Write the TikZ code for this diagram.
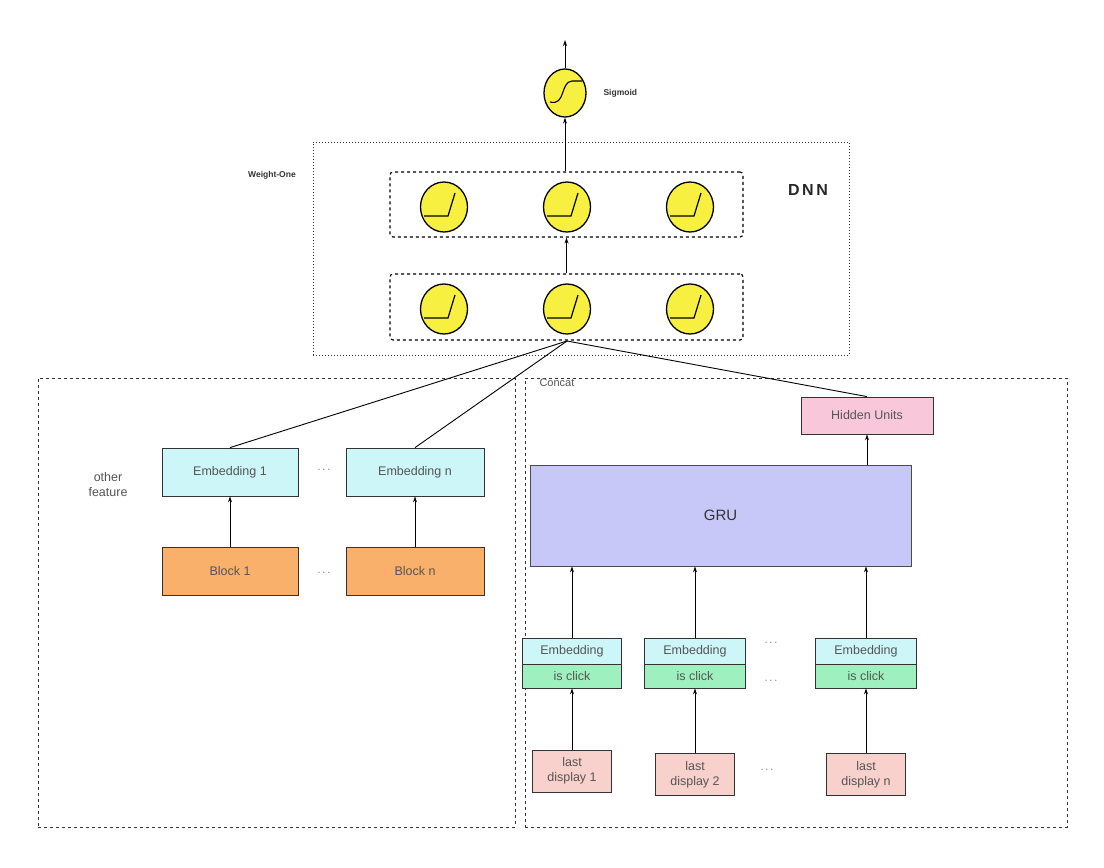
\documentclass[tikz,border=0pt]{standalone}
\usepackage{fontspec}
\setmainfont{Liberation Sans}
\usetikzlibrary{arrows.meta,shapes.geometric}
\definecolor{cyanf}{HTML}{CCF6F8}
\definecolor{orangef}{HTML}{F8B06A}
\definecolor{pinkf}{HTML}{F8C8DA}
\definecolor{grufill}{HTML}{C8C8F8}
\definecolor{greenf}{HTML}{9EF0BE}
\definecolor{lastf}{HTML}{F8D0CC}
\definecolor{yel}{HTML}{F8F040}
\definecolor{txt}{HTML}{555555}
\begin{document}
\begin{tikzpicture}[x=1pt,y=-1pt,
  box/.style={draw=black!80,line width=0.8pt,inner sep=0pt,text=txt,font=\fontsize{12.5}{13}\selectfont},
  neuron/.style={draw=black,line width=1.3pt,fill=yel,ellipse,minimum width=47pt,minimum height=50pt,inner sep=0pt},
  arr/.style={-{Stealth[length=6pt,width=4pt]},line width=0.9pt},
  ln/.style={line width=0.9pt},
  dots/.style={text=txt,font=\fontsize{11}{12}\selectfont}]
\useasboundingbox (0,0) rectangle (1104,868);
% DNN area
\node[draw=black!80,dotted,line width=1pt,minimum width=536pt,minimum height=213pt,inner sep=0pt] (dnn) at (581,248.5) {};
\node[font=\bfseries\fontsize{8.5}{9}\selectfont,text=black!80] (wo) at (272,175) {Weight-One};
\node[font=\bfseries\fontsize{16}{17}\selectfont,text=black!85] (dnnl) at (808,190) {D\,N\,N};
\node[draw=black,dashed,rounded corners=3pt,line width=1.1pt,minimum width=353pt,minimum height=65pt,inner sep=0pt] (up) at (566.5,204.5) {};
\node[draw=black,dashed,rounded corners=3pt,line width=1.1pt,minimum width=353pt,minimum height=66pt,inner sep=0pt] (lo) at (566.5,307) {};
\foreach \i/\x in {1/444,2/567,3/690}{
  \node[neuron] (u\i) at (\x,207) {};
  \draw[line width=1.2pt] (\x-20,216) -- (\x+4,216) -- (\x+11,193);
  \node[neuron] (l\i) at (\x,309) {};
  \draw[line width=1.2pt] (\x-20,318) -- (\x+4,318) -- (\x+11,295);
}
\node[neuron,minimum width=42pt,minimum height=48pt] (sig) at (565,93) {};
\draw[line width=1.1pt] (550,102) .. controls (566,106) and (560,82) .. (572,81) -- (582,81);
\node[font=\bfseries\fontsize{8.5}{9}\selectfont,text=black!80,anchor=west] (sigl) at (600,93) {Sigmoid};
\coordinate (outtop) at (565,40);
\draw[arr] (sig.north) -- (outtop);
\draw[arr] (up.north -| sig) -- (sig.south);
\draw[arr] (lo.north) -- (up.south);
% bottom containers
\node[draw=black!80,dashed,line width=0.9pt,minimum width=477pt,minimum height=449pt,inner sep=0pt] (left) at (276.5,602.5) {};
\node[draw=black!80,dashed,line width=0.9pt,minimum width=542pt,minimum height=449pt,inner sep=0pt] (right) at (796,602.5) {};
\node[text=txt,font=\fontsize{11}{12}\selectfont,anchor=west] (concat) at (536,383) {Concat};
% left side
\node[box,fill=cyanf,minimum width=136pt,minimum height=48pt] (e1) at (230,472) {Embedding 1};
\node[box,fill=cyanf,minimum width=138pt,minimum height=48pt] (en) at (415,472) {Embedding n};
\node[dots] (d1) at (324,470) {$\cdots$};
\node[text=txt,font=\fontsize{12.5}{15}\selectfont,align=center] (of) at (108,485) {other\\feature};
\node[box,fill=orangef,minimum width=136pt,minimum height=48pt] (b1) at (230,571) {Block 1};
\node[box,fill=orangef,minimum width=138pt,minimum height=48pt] (bn) at (415,571) {Block n};
\node[dots] (d2) at (324,573) {$\cdots$};
\draw[arr] (b1) -- (e1);
\draw[arr] (bn) -- (en);
% right side
\node[box,fill=pinkf,minimum width=132pt,minimum height=37pt] (hu) at (867,415.5) {Hidden Units};
\node[box,fill=grufill,draw=black!70,minimum width=381pt,minimum height=101pt,font=\fontsize{15}{16}\selectfont,text=black!80] (gru) at (720.5,515.5) {GRU};
\draw[arr] (gru.north -| hu) -- (hu.south);
\foreach \i/\x/\w/\ly/\lab in {1/572/99/771/1,2/695/101/774.5/2,3/866/101/774.5/n}{
  \node[box,fill=cyanf,minimum width=\w pt,minimum height=26pt] (se\i) at (\x,651) {Embedding};
  \node[box,fill=greenf,minimum width=\w pt,minimum height=24pt] (sc\i) at (\x,676) {is click};
  \node[box,fill=lastf,minimum width=79pt,minimum height=42pt,align=center,font=\fontsize{12.5}{15}\selectfont] (ld\i) at (\x,\ly) {last\\display \lab};
  \draw[arr] (ld\i.north) -- (sc\i.south);
  \draw[arr] (se\i.north) -- (se\i.north |- gru.south);
}
\node[dots] (d3) at (771,643) {$\cdots$};
\node[dots] (d4) at (771,681) {$\cdots$};
\node[dots] (d5) at (767,770) {$\cdots$};
% connections into DNN
\coordinate (hub) at (567,341);
\draw[ln] (e1.north) -- (hub);
\draw[ln] (en.north) -- (hub);
\draw[ln] (hu.north) -- (hub);
\end{tikzpicture}
\end{document}
